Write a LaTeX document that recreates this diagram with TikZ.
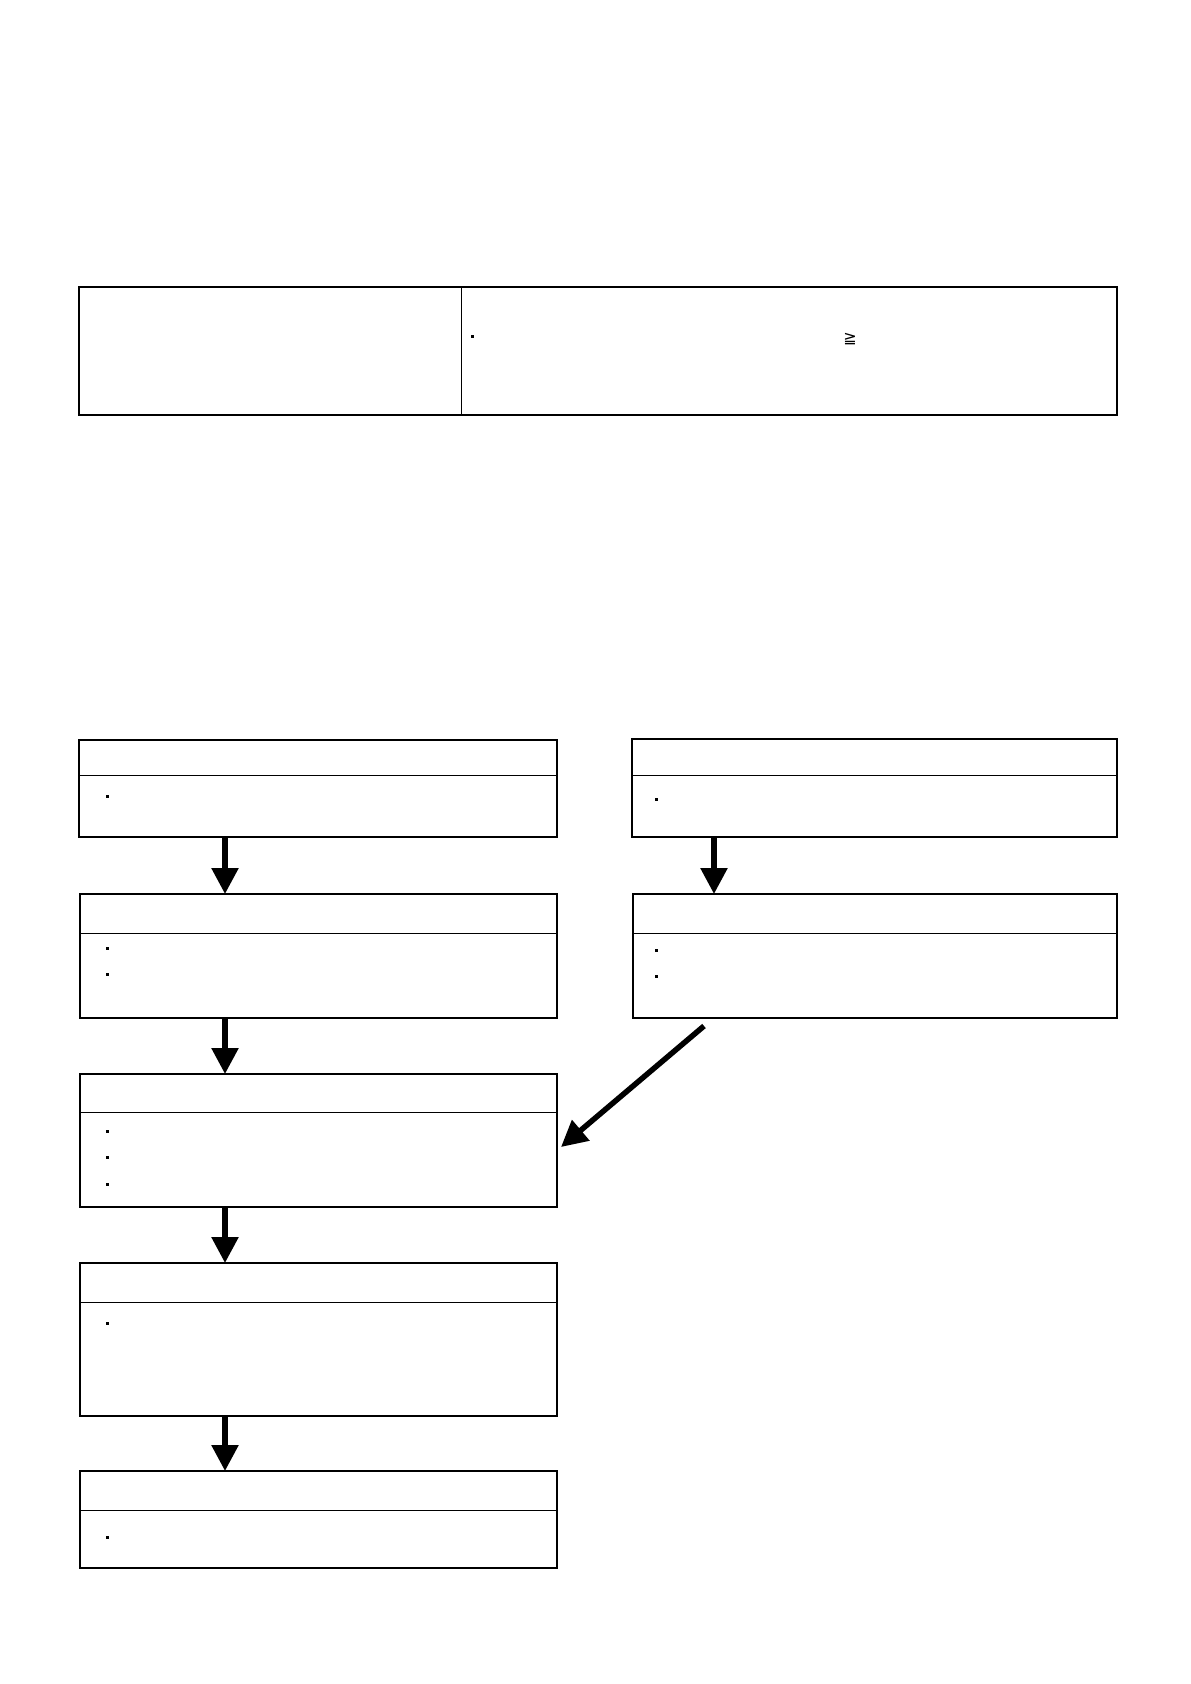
\documentclass[tikz,border=0pt]{standalone}
\usepackage{fontspec}
\newfontfamily\djv{DejaVu Sans}
\usetikzlibrary{arrows.meta}
\begin{document}
\begin{tikzpicture}[x=1pt,y=-1pt,
  box/.style={draw,line width=1.2pt},
  hline/.style={line width=0.9pt},
  bul/.style={fill=black,inner sep=0pt,minimum size=3pt},
  flow/.style={line width=5.5pt,-{Triangle[length=26pt,width=26pt]},shorten >=0pt}]
\useasboundingbox (0,0) rectangle (1191,1684);
% top table
\draw[box] (79,287) rectangle (1117,415);
\draw[hline] (461,287) -- (461,415);
\node[bul] (tb) at (472,336) {};
\node[font=\djv\fontsize{16}{16}\selectfont,inner sep=0pt] (ge) at (850,339) {≧};
% boxes
\draw[box] (79,740) rectangle (557,837); \draw[hline] (79,775) -- (557,775);
\draw[box] (632,739) rectangle (1117,837); \draw[hline] (632,775) -- (1117,775);
\draw[box] (80,894) rectangle (557,1018); \draw[hline] (80,933) -- (557,933);
\draw[box] (633,894) rectangle (1117,1018); \draw[hline] (633,933) -- (1117,933);
\draw[box] (80,1074) rectangle (557,1207); \draw[hline] (80,1112) -- (557,1112);
\draw[box] (80,1263) rectangle (557,1416); \draw[hline] (80,1302) -- (557,1302);
\draw[box] (80,1471) rectangle (557,1568); \draw[hline] (80,1510) -- (557,1510);
% bullets
\node[bul] at (107,796) {};
\node[bul] at (656,799) {};
\node[bul] at (107,948) {}; \node[bul] at (107,974) {};
\node[bul] at (656,950) {}; \node[bul] at (656,976) {};
\node[bul] at (107,1131) {}; \node[bul] at (107,1157) {}; \node[bul] at (107,1184) {};
\node[bul] at (107,1323) {};
\node[bul] at (107,1537) {};
% arrows
\coordinate (a1) at (225,837); \coordinate (b1) at (225,894);
\coordinate (a2) at (225,1018); \coordinate (b2) at (225,1074);
\coordinate (a3) at (225,1207); \coordinate (b3) at (225,1263);
\coordinate (a4) at (225,1416); \coordinate (b4) at (225,1471);
\coordinate (r1) at (714,837); \coordinate (s1) at (714,894);
\coordinate (d1) at (704,1026); \coordinate (d2) at (561,1147);
\draw[flow] (a1) -- (b1);
\draw[flow] (a2) -- (b2);
\draw[flow] (a3) -- (b3);
\draw[flow] (a4) -- (b4);
\draw[flow] (r1) -- (s1);
\draw[flow] (d1) -- (d2);
\end{tikzpicture}
\end{document}
